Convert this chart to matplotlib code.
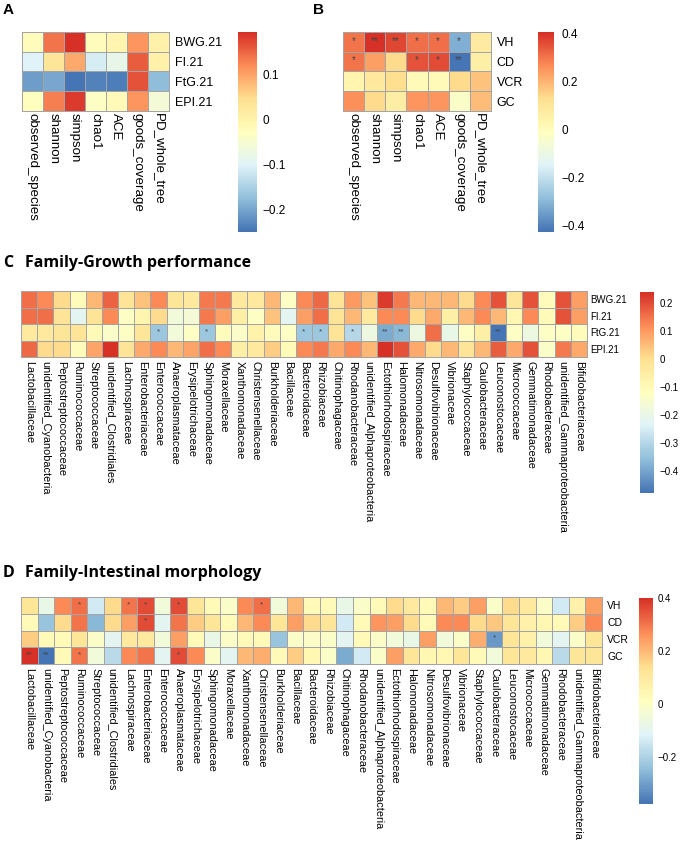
import numpy as np
import matplotlib.pyplot as plt
from matplotlib.colors import LinearSegmentedColormap, Normalize
from matplotlib.cm import ScalarMappable

plt.rcParams['font.family'] = ['Liberation Sans', 'DejaVu Sans']

W, H = 685, 841

alpha_idx = ['observed_species', 'shannon', 'simpson', 'chao1', 'ACE',
             'goods_coverage', 'PD_whole_tree']
growth_rows = ['BWG.21', 'FI.21', 'FtG.21', 'EPI.21']
morph_rows = ['VH', 'CD', 'VCR', 'GC']
families = ['Lactobacillaceae', 'unidentified_Cyanobacteria', 'Peptostreptococcaceae',
            'Ruminococcaceae', 'Streptococcaceae', 'unidentified_Clostridiales',
            'Lachnospiraceae', 'Enterobacteriaceae', 'Enterococcaceae',
            'Anaeroplasmataceae', 'Erysipelotrichaceae', 'Sphingomonadaceae',
            'Moraxellaceae', 'Xanthomonadaceae', 'Christensenellaceae',
            'Burkholderiaceae', 'Bacillaceae', 'Bacteroidaceae', 'Rhizobiaceae',
            'Chitinophagaceae', 'Rhodanobacteraceae', 'unidentified_Alphaproteobacteria',
            'Ectothiorhodospiraceae', 'Halomonadaceae', 'Nitrosomonadaceae',
            'Desulfovibrionaceae', 'Vibrionaceae', 'Staphylococcaceae',
            'Caulobacteraceae', 'Leuconostocaceae', 'Micrococcaceae',
            'Gemmatimonadaceae', 'Rhodobacteraceae', 'unidentified_Gammaproteobacteria',
            'Bifidobacteriaceae']

# A: alpha diversity vs growth
a_bwg = [-0.02, 0.14, 0.196, -0.02, 0.0, 0.115, 0.005]
a_fi = [-0.10, 0.035, 0.095, -0.11, -0.08, 0.16, 0.005]
a_ftg = [-0.205, -0.20, -0.249, -0.235, -0.24, 0.165, -0.175]
a_epi = [-0.025, 0.13, 0.185, -0.035, -0.015, 0.115, -0.055]

# B: alpha diversity vs intestinal morphology
b_vh = [0.30, 0.407, 0.37, 0.31, 0.31, -0.31, 0.08]
b_cd = [0.30, 0.24, 0.14, 0.35, 0.365, -0.424, 0.065]
b_vcr = [0.04, 0.085, 0.125, 0.01, 0.01, 0.14, 0.175]
b_gc = [0.265, 0.14, 0.07, 0.255, 0.255, -0.03, 0.19]
b_vh_sig = ['*', '**', '**', '*', '*', '*', '']
b_cd_sig = ['*', '', '', '*', '*', '**', '']

# C: family vs growth
c_bwg = [0.16, 0.125, 0.01, -0.11, 0.06, 0.17, -0.018, 0.04, 0.12, -0.02,
         -0.04, 0.14, 0.14, -0.04, -0.04, 0.06, -0.13, 0.118, 0.165, -0.018,
         0.10, 0.04, 0.22, 0.14, 0.06, 0.06, 0.055, 0.01, 0.118, 0.19,
         -0.02, 0.19, -0.11, 0.19, 0.096]
c_fi = [0.16, 0.16, -0.018, -0.22, -0.018, 0.118, -0.13, -0.08, 0.01, -0.17,
        -0.165, 0.14, 0.096, -0.06, -0.133, 0.04, -0.22, 0.096, 0.16, -0.018,
        0.055, -0.04, 0.118, 0.118, 0.01, 0.082, -0.06, 0.055, 0.12, 0.06,
        -0.09, 0.118, -0.098, 0.19, 0.096]
c_ftg = [-0.04, -0.04, -0.02, -0.018, -0.098, -0.14, -0.13, -0.02, -0.34, -0.17,
         -0.133, -0.34, -0.11, -0.14, -0.07, -0.11, -0.13, -0.34, -0.34, -0.018,
         -0.30, -0.19, -0.385, -0.37, -0.19, 0.16, -0.198, -0.133, -0.06, -0.478,
         -0.133, -0.185, -0.133, -0.133, -0.11]
c_epi = [0.165, 0.01, 0.01, -0.11, 0.085, 0.24, -0.018, 0.082, 0.118, 0.06,
         0.085, 0.16, 0.118, -0.06, -0.04, 0.025, -0.098, 0.12, 0.14, 0.082,
         0.12, 0.055, 0.235, 0.19, 0.082, 0.01, 0.055, -0.018, 0.06, 0.18,
         0.082, 0.19, -0.14, 0.14, 0.082]
c_ftg_sig = ['', '', '', '', '', '', '', '', '*', '', '', '*', '', '', '', '', '',
             '*', '*', '', '*', '', '**', '**', '', '', '', '', '', '**',
             '', '', '', '', '']

# D: family vs intestinal morphology
d_vh = [0.12, -0.075, 0.27, 0.31, -0.14, 0.15, 0.30, 0.36, -0.05, 0.36,
        0.12, 0.03, -0.01, 0.27, 0.31, -0.05, 0.20, 0.03, 0.03, -0.075,
        -0.01, 0.03, 0.15, 0.10, 0.03, 0.20, 0.17, 0.24, -0.01, 0.15,
        0.10, -0.01, -0.14, 0.07, 0.24]
d_cd = [0.03, -0.23, 0.15, 0.30, -0.26, 0.15, 0.24, 0.36, -0.10, 0.30,
        0.17, 0.12, 0.03, 0.20, 0.27, 0.12, 0.24, 0.15, 0.12, -0.14,
        0.03, 0.26, 0.24, 0.15, 0.03, 0.27, 0.27, 0.15, 0.18, 0.12,
        0.07, 0.05, 0.03, 0.17, 0.27]
d_vcr = [0.17, 0.03, 0.03, 0.12, -0.01, -0.10, 0.10, 0.10, -0.05, 0.24,
         0.03, -0.075, -0.01, 0.03, 0.03, -0.23, -0.01, -0.01, -0.01, -0.10,
         0.03, -0.01, -0.05, -0.08, 0.24, -0.05, -0.01, 0.22, -0.31, 0.12,
         0.07, -0.05, -0.10, -0.01, 0.12]
d_gc = [0.40, -0.377, 0.03, 0.30, -0.05, -0.18, 0.27, 0.30, -0.10, 0.36,
        0.27, -0.01, -0.10, 0.20, 0.22, 0.03, 0.17, 0.05, -0.01, -0.28,
        -0.14, -0.01, 0.24, 0.12, 0.05, 0.05, 0.12, 0.03, -0.05, 0.12,
        0.10, 0.05, -0.18, 0.12, 0.12]
d_vh_sig = ['', '', '', '*', '', '', '*', '*', '', '*', '', '', '', '', '*'] + [''] * 20
d_cd_sig = [''] * 7 + ['*'] + [''] * 27
d_vcr_sig = [''] * 28 + ['*'] + [''] * 6
d_gc_sig = ['**', '**', '', '*', '', '', '', '', '', '*'] + [''] * 25

# pheatmap default palette: rev(brewer.pal(7, "RdYlBu")), 100 steps
cmap = LinearSegmentedColormap.from_list(
    'ph', ['#4575B4', '#91BFDB', '#E0F3F8', '#FFFFBF', '#FEE090', '#FC8D59', '#D73027'], N=100)


def rect(x0, y0, x1, y1):
    return [x0 / W, 1 - y1 / H, (x1 - x0) / W, (y1 - y0) / H]


def fmt(v):
    if abs(v) < 1e-9:
        return '0'
    return ('%g' % v).replace('-', '\u2212')


def heat(box, data, rows, cols, sig, fs, fs_col, fs_star, rpad, cpad,
         cbox, ticks, fs_tick, tpad):
    data = np.array(data)
    norm = Normalize(vmin=data.min(), vmax=data.max())
    ax = fig.add_axes(rect(*box))
    m = ax.pcolormesh(data, cmap=cmap, norm=norm, edgecolors='#A4A4A4', linewidth=0.7)
    m.set_clip_on(False)
    ax.set_xlim(0, data.shape[1])
    ax.set_ylim(data.shape[0], 0)
    for s in ax.spines.values():
        s.set_visible(False)
    ax.yaxis.tick_right()
    ax.set_yticks(np.arange(len(rows)) + 0.5)
    ax.set_yticklabels(rows, fontsize=fs)
    ax.set_xticks(np.arange(len(cols)) + 0.5)
    ax.set_xticklabels(cols, fontsize=fs_col, rotation=270, ha='center', va='top')
    ax.tick_params(axis='y', length=0, pad=rpad)
    ax.tick_params(axis='x', length=0, pad=cpad)
    for i, row in enumerate(sig):
        for j, s in enumerate(row):
            if s:
                ax.text(j + 0.5, i + 0.45, s, ha='center', va='center',
                        fontsize=fs_star, color='#444444')
    cax = fig.add_axes(rect(*cbox))
    cb = fig.colorbar(ScalarMappable(norm=norm, cmap=cmap), cax=cax, ticks=ticks)
    cb.outline.set_visible(False)
    cb.ax.set_yticklabels([fmt(t) for t in ticks], fontsize=fs_tick)
    cax.tick_params(length=0, pad=tpad)
    return ax


fig = plt.figure(figsize=(W / 100, H / 100), dpi=100)

heat((21.7, 31.7, 169, 111), [a_bwg, a_fi, a_ftg, a_epi], growth_rows, alpha_idx, [],
     9, 9.6, 7, 4.3, 1.5, (238, 31.7, 256.5, 232), [-0.2, -0.1, 0, 0.1], 8.5, 4.5)
heat((343.3, 31.7, 490.7, 111), [b_vh, b_cd, b_vcr, b_gc], morph_rows, alpha_idx,
     [b_vh_sig, b_cd_sig], 9, 9.6, 7, 4.3, 1.5, (537.7, 31.7, 554.3, 231.7),
     [-0.4, -0.2, 0, 0.2, 0.4], 8.5, 5)
heat((21, 291, 587, 357), [c_bwg, c_fi, c_ftg, c_epi], growth_rows, families,
     [[], [], c_ftg_sig], 7, 7.8, 6, 2.2, 2.6, (640, 291.7, 654, 492.7),
     [-0.4, -0.3, -0.2, -0.1, 0, 0.1, 0.2], 7, 4.3)
heat((21, 597, 602, 664), [d_vh, d_cd, d_vcr, d_gc], morph_rows, families,
     [d_vh_sig, d_cd_sig, d_vcr_sig, d_gc_sig], 7.5, 7.8, 6, 3.6, 2.8,
     (639, 598, 653, 804), [-0.2, 0, 0.2, 0.4], 7, 3.6)

# panel letters and titles
fig.text(3 / W, 1 - 13.5 / H, 'A', fontsize=11, fontweight='bold', va='baseline')
fig.text(313 / W, 1 - 13.5 / H, 'B', fontsize=11, fontweight='bold', va='baseline')
fig.text(3 / W, 1 - 267 / H, 'C', fontsize=11.5, fontweight='bold', va='baseline',
         family=['Open Sans', 'DejaVu Sans'])
fig.text(25 / W, 1 - 267 / H, 'Family-Growth performance', fontsize=11.5,
         fontweight='bold', va='baseline', family=['Open Sans', 'DejaVu Sans'])
fig.text(3 / W, 1 - 577 / H, 'D', fontsize=11.5, fontweight='bold', va='baseline',
         family=['Open Sans', 'DejaVu Sans'])
fig.text(25 / W, 1 - 577 / H, 'Family-Intestinal morphology', fontsize=11.5,
         fontweight='bold', va='baseline', family=['Open Sans', 'DejaVu Sans'])

fig.savefig('out.png', dpi=100)
